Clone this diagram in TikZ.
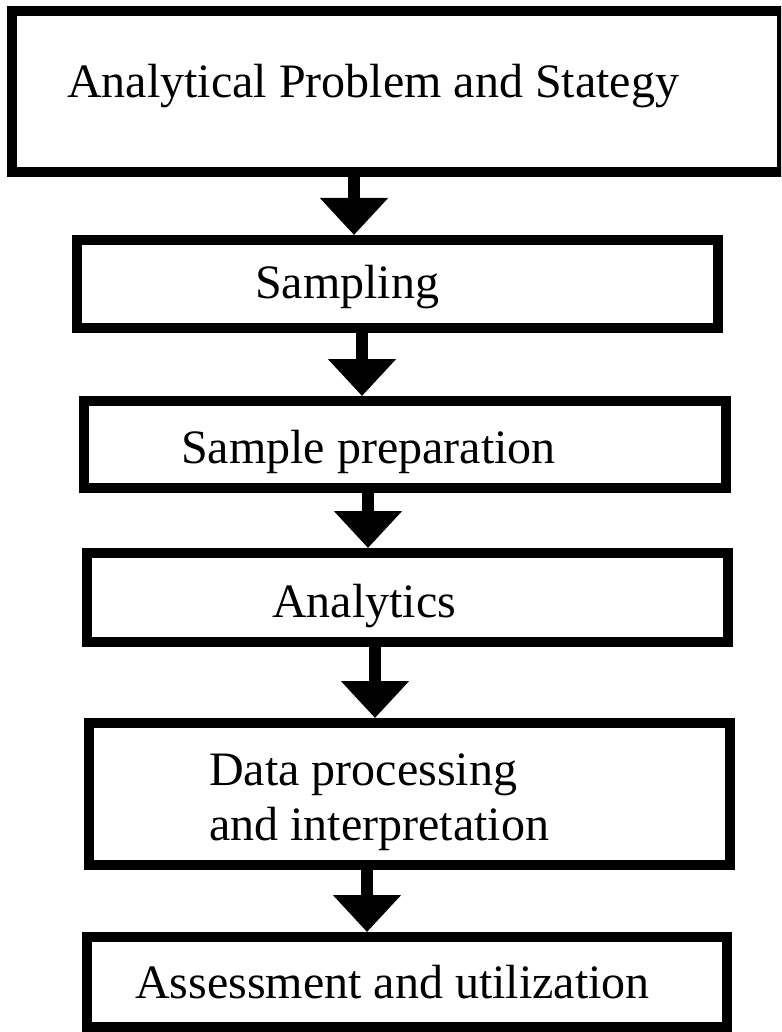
\documentclass[tikz,border=0pt]{standalone}
\usepackage{fontspec}
\setmainfont{Liberation Serif}
\usetikzlibrary{arrows.meta,positioning,calc}

\tikzset{
  stage/.style={draw=black, line width=10pt, rectangle, inner sep=0pt, fill=white},
  label/.style={inner sep=0pt, anchor=base west, align=left, font=\fontsize{48}{55}\selectfont},
  flow/.style={line width=12pt, line cap=butt, -{Triangle[length=37pt, width=66pt]}}
}

\begin{document}
\begin{tikzpicture}[x=1pt, y=-1pt]
\clip (0,0) rectangle (781,1032);
% boxes
\node[stage, minimum width=770pt, minimum height=161pt] (b1) at (397,91.5) {};
\node[stage, minimum width=641pt, minimum height=88pt] (b2) at (397.5,284) {};
\node[stage, minimum width=642pt, minimum height=87pt] (b3) at (405,444.5) {};
\node[stage, minimum width=641pt, minimum height=89pt] (b4) at (407.5,597.5) {};
\node[stage, minimum width=641pt, minimum height=142pt] (b5) at (409.5,794) {};
\node[stage, minimum width=640pt, minimum height=90pt] (b6) at (407,982) {};
% texts
\node[label] (t1) at (67,98) {Analytical Problem and Stategy};
\node[label] (t2) at (255,298) {Sampling};
\node[label] (t3) at (181,463) {Sample preparation};
\node[label] (t4) at (272,617) {Analytics};
\node[label] (t5) at (209,840) {Data processing\\ and interpretation};
\node[label] (t6) at (135,998) {Assessment and utilization};
% arrows between stages
\foreach \a/\b/\x in {b1/b2/354, b2/b3/362, b3/b4/368, b4/b5/375, b5/b6/367} {
  \coordinate (k) at (\x,0);
  \draw[flow] (\a.south -| k) -- (\b.north -| k);
}
\end{tikzpicture}
\end{document}
